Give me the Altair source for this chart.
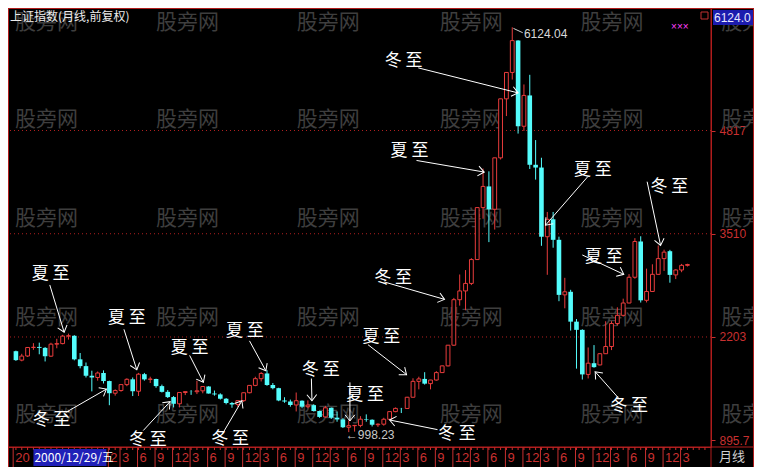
import math
import altair as alt
import pandas as pd

# ---------------- data (monthly, index 0 = 2000-09) ----------------
opens = [2023, 1910, 1962, 2070, 2077, 2065, 1960, 2112, 2119, 2214, 2218, 1920, 1834, 1712, 1690, 1747,
         1645, 1491, 1525, 1600, 1667, 1516, 1732, 1666, 1671, 1581, 1508, 1442,
         1357, 1500, 1511, 1510, 1521, 1576, 1487, 1476, 1421, 1367, 1348, 1397,
         1497, 1590, 1675, 1741, 1595, 1555, 1399, 1386, 1342, 1396, 1320, 1340,
         1266, 1191, 1306, 1181, 1159, 1060, 1080, 1083, 1162, 1155, 1092, 1099,
         1161, 1258, 1299, 1298, 1440, 1641, 1672, 1612, 1658, 1752, 1837, 2099,
         2675, 2786, 2881, 3183, 3841, 4109, 3820, 4471, 5218, 5552, 5955, 4871,
         5261, 4383, 4348, 3472, 3693, 3433, 2736, 2775, 2397, 2293, 1729, 1871,
         1849, 1991, 2082, 2373, 2477, 2633, 2959, 3412, 2667, 2779, 2996, 3195,
         3289, 2989, 3051, 3110]
highs = [2030, 1990, 2070, 2125, 2131, 2075, 2130, 2180, 2230, 2245, 2226, 2000, 1880, 1776, 1766, 1780,
         1650, 1540, 1600, 1680, 1690, 1748, 1748, 1700, 1675, 1600, 1530, 1455,
         1500, 1512, 1530, 1649, 1577, 1580, 1525, 1490, 1430, 1380, 1400, 1500,
         1590, 1700, 1760, 1783, 1620, 1560, 1440, 1410, 1500, 1400, 1400, 1350,
         1270, 1330, 1310, 1260, 1175, 1146, 1090, 1200, 1223, 1160, 1110, 1180,
         1260, 1310, 1305, 1445, 1680, 1700, 1757, 1660, 1770, 1840, 2100, 2698,
         2994, 3050, 3200, 3841, 4335, 4300, 4471, 5218, 5552, 6124.04, 5960, 5400,
         5522, 4696, 4472, 3786, 3786, 3473, 2952, 2800, 2430, 2300, 2070, 2100,
         2000, 2402, 2403, 2579, 2688, 2999, 3454, 3478, 3068, 3123, 3361, 3308,
         3306, 3060, 3128, 3130]
lows = [1900, 1895, 1950, 2040, 1984, 1893, 1950, 2060, 2110, 2170, 1907, 1806, 1690, 1514, 1650, 1614,
        1339, 1460, 1510, 1580, 1455, 1456, 1650, 1620, 1560, 1500, 1430, 1311,
        1311, 1467, 1470, 1480, 1490, 1486, 1460, 1410, 1350, 1307, 1316, 1380,
        1490, 1580, 1640, 1585, 1540, 1390, 1370, 1320, 1260, 1300, 1300, 1260,
        1180, 1180, 1165, 1130, 1050, 998.23, 1005, 1060, 1130, 1070, 1064, 1080,
        1160, 1250, 1240, 1295, 1440, 1540, 1600, 1540, 1650, 1750, 1830, 2090,
        2600, 2541, 2860, 3180, 3700, 3404, 3563, 4450, 5000, 5462, 4778, 4812,
        4330, 4195, 3357, 2990, 3333, 2656, 2566, 2284, 1802, 1664, 1678, 1814,
        1844, 1990, 2037, 2347, 2461, 2630, 2940, 2639, 2640, 2775, 2990, 3039,
        2890, 2936, 3023, 3095]
closes = [1910, 1961, 2070, 2073, 2065, 1959, 2112, 2119, 2214, 2218, 1920, 1834, 1712, 1690, 1747, 1645,
          1491, 1525, 1600, 1667, 1516, 1732, 1666, 1671, 1581, 1508, 1442, 1357,
          1500, 1511, 1510, 1521, 1576, 1487, 1476, 1421, 1367, 1348, 1397, 1497,
          1590, 1675, 1741, 1595, 1555, 1399, 1386, 1342, 1396, 1320, 1340, 1266,
          1191, 1306, 1181, 1159, 1060, 1080, 1083, 1162, 1155, 1092, 1099, 1161,
          1258, 1299, 1298, 1440, 1641, 1672, 1612, 1658, 1752, 1837, 2099, 2675,
          2786, 2881, 3183, 3841, 4109, 3820, 4471, 5218, 5552, 5955, 4871, 5261,
          4383, 4348, 3472, 3693, 3433, 2736, 2775, 2397, 2293, 1729, 1871, 1821,
          1991, 2082, 2373, 2477, 2633, 2959, 3412, 2667, 2779, 2996, 3195, 3277,
          2989, 3051, 3110, 3120]

price_levels = [895.7, 2203, 3510, 4817]
grid_levels = [2203, 3510, 4817]

bottom_tick_idx = [-0.3, 16] + list(range(18, 115, 3))
bottom_tick_txt = ["20", "2"] + ["3", "6", "9", "12"] * 8 + ["3"]

# annotations: label, text centre (month idx, price), line start, arrow tip
ann_label = ["夏至", "冬至", "夏至", "冬至", "夏至", "冬至", "夏至", "冬至", "夏至",
             "冬至", "夏至", "冬至", "夏至", "冬至", "夏至", "夏至", "冬至", "冬至"]
ann_ti = [5.95, 6.1, 19.0, 22.6, 29.75, 36.7, 39.2, 52.2, 59.8, 75.5, 62.6, 64.6, 67.4, 66.4, 98.8, 100.7, 105.0, 111.9]
ann_tp = [2996, 1152, 2447, 896, 2068, 908, 2276, 1787, 1470, 969, 2203, 2948, 4560, 5696, 4316, 3216, 1323, 4096]
ann_si = [5.8, 8.6, 18.5, 21.8, 29.75, 35.4, 40.0, 50.6, 57.2, 72.2, 60.3, 63.1, 68.6, 68.9, 97.9, 97.0, 103.3, 108.1]
ann_sp = [2862, 1250, 2300, 1018, 1970, 981, 2154, 1677, 1628, 1030, 2105, 2899, 4438, 5610, 4230, 3241, 1421, 4169]
ann_ei = [8.26, 15.5, 20.7, 26.4, 32.1, 38.7, 42.8, 50.7, 57.2, 64.0, 66.9, 73.4, 80.2, 86.0, 90.7, 104.1, 99.2, 110.4]
ann_ep = [2263, 1543, 1787, 1384, 1629, 1396, 1775, 1396, 1140, 1152, 1726, 2679, 4291, 5293, 3619, 2996, 1763, 3363]

wm_cols = [-0.17, 24.0, 48.1, 72.6, 96.7, 120.8]
wm_rows = [6184, 4951, 3693, 2447, 1213]

# ---------------- layout ----------------
W, H = 703, 439
XD = [-0.5, 118.18]
YD = [810, 6368]
RED = "#e83c3c"
CYAN = "#54fcfc"
AXRED = "#c83030"
FRAME = "#b01c1c"
CJK = "Noto Sans CJK SC"
LAT = "Liberation Sans"

xs = alt.Scale(domain=XD, nice=False, zero=False)
ys = alt.Scale(domain=YD, nice=False, zero=False)
yaxis = alt.Axis(orient="right", values=price_levels, title=None, domain=False, grid=False,
                 ticks=True, tickColor=AXRED, tickSize=4, labelColor=AXRED, labelFontSize=12,
                 labelFont=LAT, labelPadding=4, labelFlush=False, labelOverlap=False,
                 labelBaseline="middle",
                 labelExpr="datum.value == 895.7 ? '895.7' : format(datum.value, 'd')")


def X(f):
    return alt.X(f, type="quantitative", scale=xs, axis=None)


def Y(f):
    return alt.Y(f, type="quantitative", scale=ys, axis=yaxis)


def px(i):
    return (i - XD[0]) / (XD[1] - XD[0]) * W


def py(p):
    return H - (p - YD[0]) / (YD[1] - YD[0]) * H


cdf = pd.DataFrame({"i": list(range(len(opens))), "o": opens, "h": highs, "l": lows, "c": closes})
cdf["dir"] = ["up" if c >= o else "down" for o, c in zip(opens, closes)]

wm = pd.DataFrame([{"i": c, "p": r, "t": "股旁网"} for r in wm_rows for c in wm_cols])

adf = pd.DataFrame({"t": ann_label, "ti": ann_ti, "tp": ann_tp, "si": ann_si, "sp": ann_sp,
                    "ei": ann_ei, "ep": ann_ep})
adf["ang"] = [math.degrees(math.atan2(py(ep) - py(sp), px(ei) - px(si))) % 360
              for si, sp, ei, ep in zip(ann_si, ann_sp, ann_ei, ann_ep)]

one = pd.DataFrame({"k": [0]})

layers = []

# watermark
layers.append(alt.Chart(wm).mark_text(align="left", baseline="middle", font=CJK, fontSize=21,
                                      color="#3e3e3e").encode(x=X("i"), y=Y("p"), text="t:N"))
# grid lines
layers.append(alt.Chart(pd.DataFrame({"p": grid_levels})).mark_rule(
    color="#b02020", strokeDash=[1, 3], strokeWidth=1).encode(y=Y("p")))

# candles
layers.append(alt.Chart(cdf).mark_rule(strokeWidth=1).encode(
    x=X("i"), y=Y("l"), y2=alt.Y2("h"),
    color=alt.Color("dir:N", scale=alt.Scale(domain=["up", "down"], range=[RED, CYAN]), legend=None)))
layers.append(alt.Chart(cdf).transform_filter("datum.dir == 'up'").mark_bar(
    size=3.8, fill="black", stroke=RED, strokeWidth=1).encode(x=X("i"), y=Y("o"), y2=alt.Y2("c")))
layers.append(alt.Chart(cdf).transform_filter("datum.dir == 'down'").mark_bar(
    size=4.6, color=CYAN).encode(x=X("i"), y=Y("o"), y2=alt.Y2("c")))

# annotations
layers.append(alt.Chart(adf).mark_rule(color="white", strokeWidth=1).encode(
    x=X("si"), y=Y("sp"), x2=alt.X2("ei"), y2=alt.Y2("ep")))
layers.append(alt.Chart(adf).mark_point(shape="M-1,-0.8L0,0L-1,0.8", filled=False, stroke="white",
                                        strokeWidth=1, size=150, opacity=1).encode(
    x=X("ei"), y=Y("ep"), angle=alt.Angle("ang:Q", scale=None)))
layers.append(alt.Chart(adf).transform_calculate(
    lab="substring(datum.t, 0, 1) + ' ' + substring(datum.t, 1, 2)").mark_text(
    font=CJK, fontSize=17, color="white", align="center", baseline="middle").encode(
    x=X("ti"), y=Y("tp"), text="lab:N"))

# extreme labels
peak = pd.DataFrame({"a": [85.2], "ap": [6110], "b": [86.8], "bp": [6055], "ti": [87.0], "tp": [6040],
                     "t": ["6124.04"]})
layers.append(alt.Chart(peak).mark_rule(color="#d0d0d0").encode(
    x=X("a"), y=Y("ap"), x2=alt.X2("b"), y2=alt.Y2("bp")))
layers.append(alt.Chart(peak).mark_text(align="left", baseline="middle", font=LAT, fontSize=12,
                                        color="#d8d8d8").encode(x=X("ti"), y=Y("tp"), text="t:N"))
low = pd.DataFrame({"ti": [56.5], "tp": [957], "t": ["←998.23"]})
layers.append(alt.Chart(low).mark_text(align="left", baseline="middle", font=LAT, fontSize=12,
                                       color="#c8c8c8").encode(x=X("ti"), y=Y("tp"), text="t:N"))

# magenta marks top right
layers.append(alt.Chart(pd.DataFrame({"i": [113.7], "p": [6123], "t": ["×××"]})).mark_text(
    align="center", baseline="middle", font=LAT, fontSize=10, color="#ff40ff").encode(
    x=X("i"), y=Y("p"), text="t:N"))

# bottom axis: monthly minor ticks, separators, labels
layers.append(alt.Chart(pd.DataFrame({"i": list(range(0, 119))})).mark_rule(color=AXRED).encode(
    x=X("i"), y=alt.value(H), y2=alt.value(H + 3)))
bl = pd.DataFrame({"i": bottom_tick_idx, "t": bottom_tick_txt})
layers.append(alt.Chart(bl).mark_rule(color=AXRED, xOffset=-1).encode(
    x=X("i"), y=alt.value(H), y2=alt.value(H + 20)))
layers.append(alt.Chart(bl).mark_text(align="left", baseline="middle", font=LAT, fontSize=13,
                                      color=AXRED, dx=1).encode(x=X("i"), y=alt.value(H + 11), text="t:N"))
dbox = pd.DataFrame({"a": [3.0], "b": [15.5], "t": ["2000/12/29/五"]})
layers.append(alt.Chart(dbox).mark_rect(color="#2020b8").encode(
    x=X("a"), x2=alt.X2("b"), y=alt.value(H + 2), y2=alt.value(H + 19)))
layers.append(alt.Chart(dbox).mark_text(align="left", baseline="middle", font=CJK, fontSize=12,
                                        color="white", dx=1).encode(x=X("a"), y=alt.value(H + 11), text="t:N"))

# frame pieces outside the plot area
layers.append(alt.Chart(one).mark_rule(color=FRAME).encode(
    x=alt.value(0), x2=alt.value(W + 43), y=alt.value(0.5)))
layers.append(alt.Chart(one).mark_rule(color=FRAME).encode(
    x=alt.value(0), x2=alt.value(W + 43), y=alt.value(H)))
layers.append(alt.Chart(one).mark_rule(color=FRAME).encode(
    x=alt.value(W + 42.5), y=alt.value(0), y2=alt.value(H + 20)))
layers.append(alt.Chart(one).mark_rule(color=FRAME).encode(
    x=alt.value(W), y=alt.value(0), y2=alt.value(H + 20)))
layers.append(alt.Chart(one).mark_rule(color=FRAME).encode(
    x=alt.value(0.5), y=alt.value(0), y2=alt.value(H + 20)))

# top-right price box, small icon, corner label, title
layers.append(alt.Chart(one).mark_rect(color="#1c1cae").encode(
    x=alt.value(W + 2), x2=alt.value(W + 42), y=alt.value(2), y2=alt.value(17)))
layers.append(alt.Chart(pd.DataFrame({"t": ["6124.0"]})).mark_text(
    align="left", baseline="middle", font=LAT, fontSize=12, color="#e8e8ff").encode(
    x=alt.value(W + 3), y=alt.value(10), text="t:N"))
layers.append(alt.Chart(one).mark_rect(fill="black", stroke="#c03030", strokeWidth=1).encode(
    x=alt.value(W - 10), x2=alt.value(W - 3), y=alt.value(4), y2=alt.value(11)))
layers.append(alt.Chart(pd.DataFrame({"t": ["月线"]})).mark_text(
    align="center", baseline="middle", font=CJK, fontSize=13, color="#d0d0d0").encode(
    x=alt.value(W + 21), y=alt.value(H + 10), text="t:N"))
layers.append(alt.Chart(pd.DataFrame({"t": ["上证指数(月线,前复权)"]})).mark_text(
    align="left", baseline="middle", font=CJK, fontSize=12, color="#ececec").encode(
    x=alt.value(2), y=alt.value(9), text="t:N"))

chart = alt.layer(*layers).properties(
    width=W, height=H,
    padding={"left": 0, "top": 0, "right": 43, "bottom": 20},
    autosize=alt.AutoSizeParams(type="none"),
    background="black",
).configure_view(stroke=FRAME, strokeWidth=1)

chart.save("out.html", embed_options={"renderer": "svg", "actions": False})
